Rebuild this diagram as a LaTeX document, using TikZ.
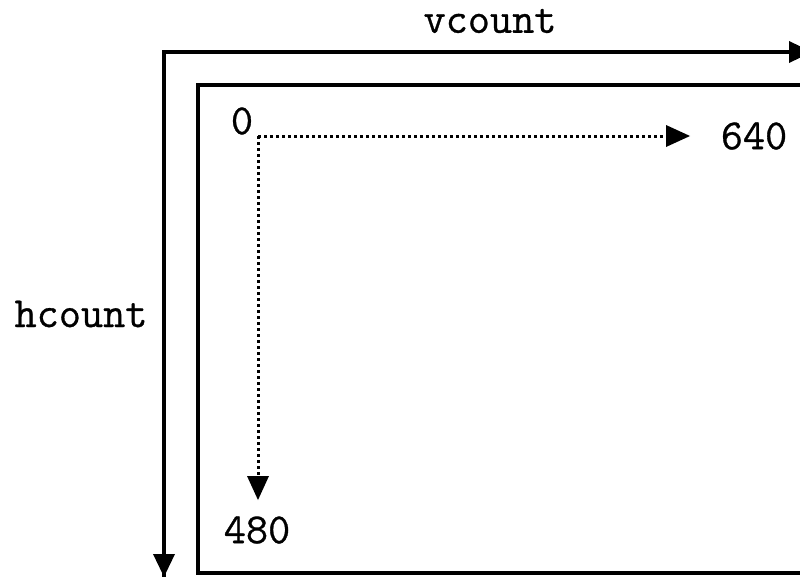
\documentclass[tikz,border=0pt]{standalone}
\usepackage{fontspec}
\newfontfamily\courfont[FakeBold=0.7]{Latin Modern Mono}
\usetikzlibrary{arrows.meta,calc}
\begin{document}
\begin{tikzpicture}[x=1pt,y=-1pt,
  lbl/.style={font=\fontsize{43}{46}\courfont, inner sep=0pt, anchor=center},
  solidln/.style={line width=3.6pt},
  dotln/.style={line width=3pt, dash pattern=on 3pt off 3pt},
  bigtip/.style={-{Triangle[length=23pt,width=21pt]}}]
\useasboundingbox (0,0) rectangle (800,576);
\clip (0,0) rectangle (800,576);
% outer axes
\coordinate (corner) at (164,52);
\coordinate (vend) at (812,52);
\coordinate (hend) at (164,577);
\draw[solidln, line join=miter] (hend) -- (corner) -- (vend);
\draw[solidln, bigtip] (corner) -- (vend);
\draw[solidln, bigtip] (corner) -- (hend);
% screen rectangle
\coordinate (scrTL) at (198,85);
\coordinate (scrBR) at (830,573);
\draw[solidln] (scrTL) rectangle (scrBR);
% dotted axes
\coordinate (o) at (258,136);
\coordinate (xend) at (690,136);
\coordinate (yend) at (258,500);
\draw[dotln] (o) -- ($(xend)+(-22,0)$);
\draw[dotln] (o) -- ($(yend)+(0,-22)$);
\fill ($(xend)+(-24,-11)$) -- (xend) -- ($(xend)+(-24,11)$) -- cycle;
\fill ($(yend)+(-11,-24)$) -- (yend) -- ($(yend)+(11,-24)$) -- cycle;
% labels
\node[lbl] (vc) at (490,21) {vcount};
\node[lbl] (hc) at (81,314) {hcount};
\node[lbl] (zero) at (242,121) {0};
\node[lbl] (n640) at (754,136) {640};
\node[lbl] (n480) at (257,530) {480};
\end{tikzpicture}
\end{document}
